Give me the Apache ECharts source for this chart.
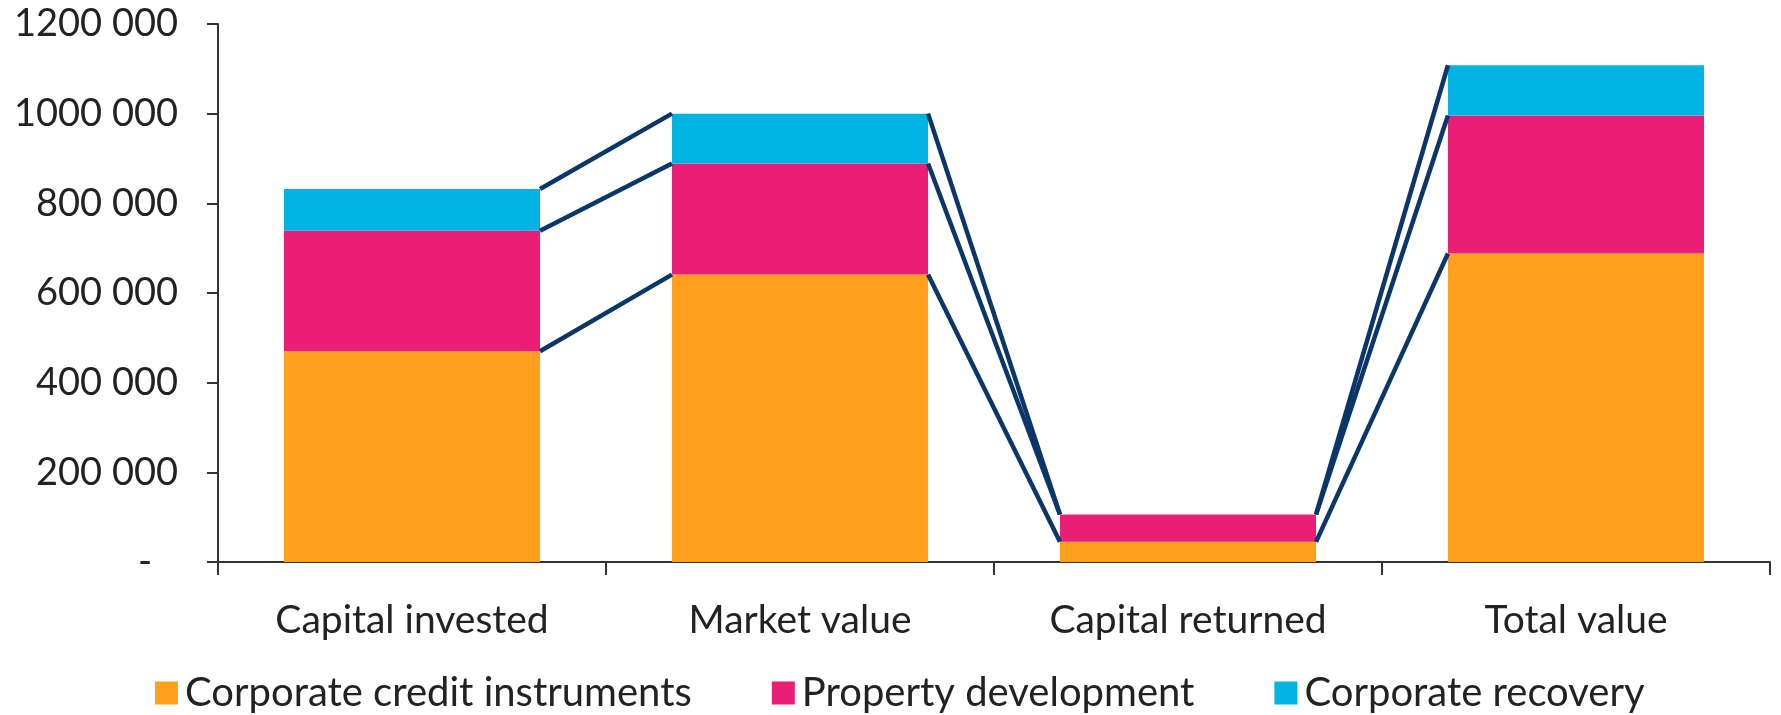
<!DOCTYPE html>
<html>
<head>
<meta charset="utf-8">
<script src="https://cdn.jsdelivr.net/npm/echarts@6/dist/echarts.min.js"></script>
<style>
  html, body { margin: 0; padding: 0; background: #fff; }
  #chart { width: 1781px; height: 715px; }
</style>
</head>
<body>
<div id="chart"></div>
<script>
const categories = ['Capital invested', 'Market value', 'Capital returned', 'Total value'];
const creditValues = [470000, 641000, 45000, 688000];
const propertyValues = [269000, 248000, 61000, 308000];
const recoveryValues = [93000, 111000, 0, 112000];
const yTickLabels = ['-', '200 000', '400 000', '600 000', '800 000', '1000 000', '1200 000'];

const seriesNames = ['Corporate credit instruments', 'Property development', 'Corporate recovery'];
const colors = ['#FF9F1C', '#E91F76', '#00B3E3'];
const navy = '#0A3768';
const textColor = '#222222';
const font = 'Lato';
const BAR_FRAC = 0.66;

// running totals for each layer, used for the connector lines
const layers = [creditValues, propertyValues, recoveryValues];
const cumulative = layers.map((_, k) =>
  categories.map((c, i) => layers.slice(0, k + 1).reduce((s, arr) => s + arr[i], 0))
);
const connectors = [];
for (let i = 0; i < categories.length - 1; i++) {
  cumulative.forEach(cum => connectors.push([i, cum[i], cum[i + 1]]));
}

const chart = echarts.init(document.getElementById('chart'));
chart.setOption({
  animation: false,
  textStyle: { fontFamily: font, color: textColor },
  grid: { left: 218, right: 11, top: 24, bottom: 153 },
  legend: {
    data: seriesNames,
    left: 150,
    top: 668,
    itemWidth: 23,
    itemHeight: 23,
    itemGap: 80,
    icon: 'rect',
    textStyle: { fontFamily: font, fontSize: 40, color: textColor, padding: [0, 0, 0, 2] }
  },
  xAxis: {
    type: 'category',
    data: categories,
    axisLine: { lineStyle: { color: '#333', width: 2 } },
    axisTick: { show: true, length: 13, lineStyle: { color: '#333', width: 2 } },
    axisLabel: { fontFamily: font, fontSize: 39, color: textColor, margin: 39 }
  },
  yAxis: {
    type: 'value',
    min: 0,
    max: 1200000,
    interval: 200000,
    splitLine: { show: false },
    axisLine: { show: true, lineStyle: { color: '#333', width: 2 } },
    axisTick: { show: true, length: 11, lineStyle: { color: '#333', width: 2 } },
    axisLabel: {
      fontFamily: font,
      fontSize: 38,
      color: textColor,
      margin: 40,
      formatter: v => {
        const lbl = yTickLabels[Math.round(v / 200000)];
        return v === 0 ? '{z|' + lbl + '}' : lbl;
      },
      rich: { z: { fontFamily: font, fontSize: 38, color: textColor, padding: [0, 26, 0, 0] } }
    }
  },
  series: [
    ...layers.map((vals, k) => ({
      name: seriesNames[k],
      type: 'bar',
      stack: 'total',
      barWidth: (BAR_FRAC * 100) + '%',
      itemStyle: { color: colors[k] },
      data: vals
    })),
    {
      type: 'custom',
      z: 5,
      data: connectors,
      encode: { x: 0, y: [1, 2] },
      renderItem: (params, api) => {
        const i = api.value(0);
        const a = api.coord([i, api.value(1)]);
        const b = api.coord([i + 1, api.value(2)]);
        const half = api.size([1, 0])[0] * BAR_FRAC / 2;
        return {
          type: 'line',
          shape: { x1: a[0] + half, y1: a[1], x2: b[0] - half, y2: b[1] },
          style: { stroke: navy, lineWidth: 4.5 }
        };
      }
    }
  ]
});
</script>
</body>
</html>
